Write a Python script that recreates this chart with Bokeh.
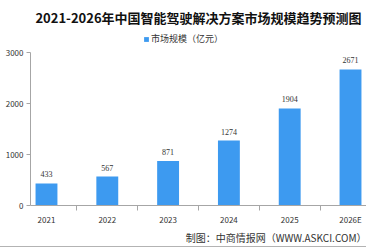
from bokeh.plotting import figure
from bokeh.models import (ColumnDataSource, Range1d, FixedTicker, LabelSet,
                          Legend, LegendItem, Title)
from bokeh.embed import file_html
from bokeh.resources import INLINE

# Market size of China's intelligent-driving solutions, 100 million yuan
years = ["2021", "2022", "2023", "2024", "2025", "2026E"]
market_size = [433, 567, 871, 1274, 1904, 2671]
y_ticks = [0, 1000, 2000, 3000]

title_text = "2021-2026年中国智能驾驶解决方案市场规模趋势预测图"
series_name = "市场规模（亿元）"
source_text = "制图：中商情报网（WWW.ASKCI.COM）"

BAR = "#3d9af0"
AXIS = "#a6a6a6"
TEXT = "#333333"
CJK = "Noto Sans CJK SC"

W, H = 366, 248
xs = list(range(len(years)))
src = ColumnDataSource(dict(x=xs, y=market_size,
                            lbl=[str(v) for v in market_size]))

# the frame reaches above the 3000 line so the key can sit inside it;
# the y axis itself stops at 3000
p = figure(width=W, height=H - 1, output_backend="svg",
           toolbar_location=None,
           x_range=Range1d(-0.263, 5.263), y_range=Range1d(0, 3474),
           min_border_left=30, min_border_right=0,
           min_border_top=28, min_border_bottom=42)
p.outline_line_color = None
p.xgrid.visible = False
p.ygrid.visible = False
p.background_fill_color = "white"
p.border_fill_color = "white"
p.styles = {"border-bottom": "1px solid #b3b3b3"}

p.title.text = title_text
p.title.align = "center"
p.title.text_font = CJK
p.title.text_font_size = "13px"
p.title.text_font_style = "bold"
p.title.text_color = "#111111"
p.title.standoff = 4

bars = p.vbar(x="x", top="y", width=0.36, source=src,
              fill_color=BAR, line_color=None)

p.add_layout(LabelSet(x="x", y="y", text="lbl", source=src,
                      y_offset=6, text_align="center",
                      text_baseline="bottom", text_font=CJK,
                      text_font_size="8px", text_color=TEXT))

# x axis: labels at category centres, short ticks between categories
xa = p.xaxis[0]
xa.ticker = FixedTicker(ticks=xs,
                        minor_ticks=[i + 0.5 for i in range(-1, len(years))])
xa.major_label_overrides = {i: y for i, y in enumerate(years)}
xa.axis_line_color = AXIS
xa.major_tick_line_color = None
xa.major_tick_out = 0
xa.minor_tick_line_color = AXIS
xa.minor_tick_out = 5
xa.minor_tick_in = 0
xa.major_label_standoff = 3
xa.major_label_text_font = CJK
xa.major_label_text_font_size = "8px"
xa.major_label_text_color = TEXT

ya = p.yaxis[0]
ya.ticker = FixedTicker(ticks=y_ticks)
ya.bounds = (0, 3000)
ya.axis_line_color = AXIS
ya.major_tick_line_color = AXIS
ya.major_tick_out = 4
ya.major_tick_in = 0
ya.minor_tick_line_color = None
ya.major_label_standoff = 3
ya.major_label_text_font = CJK
ya.major_label_text_font_size = "8px"
ya.major_label_text_color = TEXT

legend = Legend(items=[LegendItem(label=series_name, renderers=[bars])],
                location=(113, 160), orientation="horizontal",
                background_fill_alpha=0, border_line_color=None,
                glyph_width=6, glyph_height=6, label_standoff=2,
                padding=0, margin=0, spacing=0,
                label_text_font=CJK, label_text_font_size="9px",
                label_text_color=TEXT, label_height=10)
p.add_layout(legend, "center")

p.add_layout(Title(text=source_text, align="right", text_font=CJK,
                   text_font_size="10px", text_font_style="normal",
                   text_color=TEXT, standoff=0), "below")

open("out.html", "w").write(file_html(p, INLINE))
